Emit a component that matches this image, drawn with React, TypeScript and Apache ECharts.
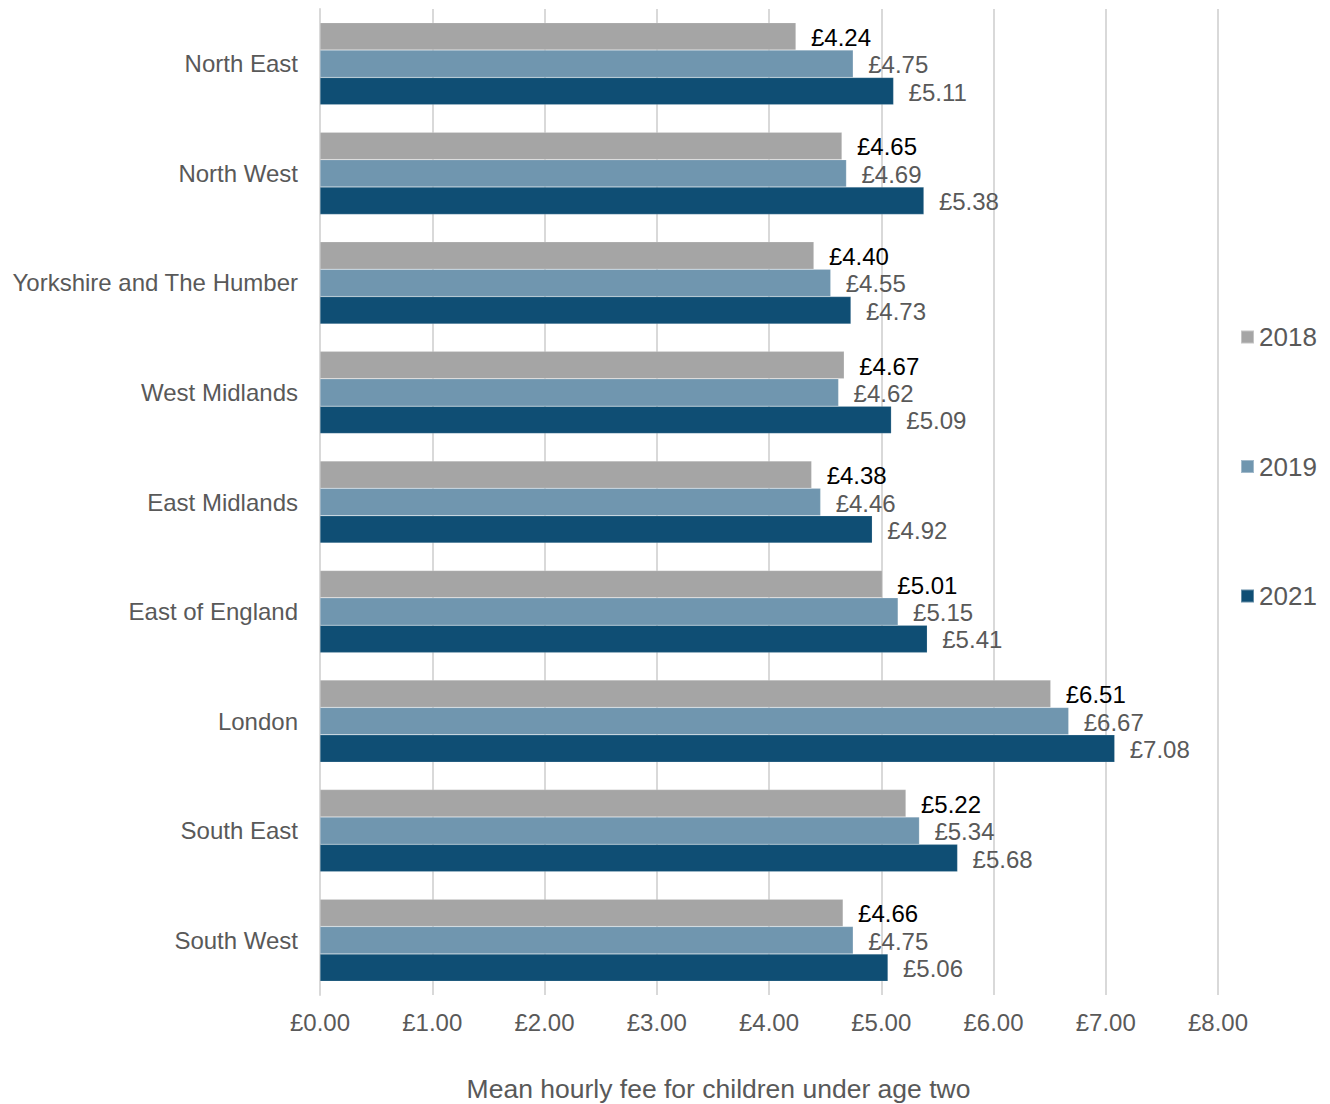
import React, { useEffect, useRef } from "react";
import * as echarts from "echarts";

const regions = [
  "North East",
  "North West",
  "Yorkshire and The Humber",
  "West Midlands",
  "East Midlands",
  "East of England",
  "London",
  "South East",
  "South West",
];
const years = ["2018", "2019", "2021"];
const fees2018 = [4.24, 4.65, 4.4, 4.67, 4.38, 5.01, 6.51, 5.22, 4.66];
const fees2019 = [4.75, 4.69, 4.55, 4.62, 4.46, 5.15, 6.67, 5.34, 4.75];
const fees2021 = [5.11, 5.38, 4.73, 5.09, 4.92, 5.41, 7.08, 5.68, 5.06];
const colors = ["#A5A5A5", "#7096AF", "#0F4E74"];
const labelColors = ["#000000", "#595959", "#595959"];
const FONT = "'Liberation Sans', Arial, sans-serif";

export default function App() {
  const ref = useRef<HTMLDivElement>(null);
  useEffect(() => {
    if (!ref.current) return;
    const chart = echarts.init(ref.current, undefined, { renderer: "svg" });
    const series = [fees2018, fees2019, fees2021].map((d, i) => ({
      name: years[i],
      type: "bar",
      data: d,
      barGap: "0%",
      barCategoryGap: "25%",
      itemStyle: { color: colors[i], borderColor: "rgba(255,255,255,0.35)", borderWidth: 0.5 },
      label: {
        show: true,
        position: "right",
        distance: 15,
        color: labelColors[i],
        fontSize: 24,
        fontFamily: FONT,
        offset: [0, 1],
        formatter: (p: any) => "£" + Number(p.value).toFixed(2),
      },
    }));
    chart.setOption({
      animation: false,
      textStyle: { fontFamily: FONT },
      grid: {
        left: 320,
        right: 112,
        top: 9,
        bottom: 109,
        containLabel: false,
        outerBoundsMode: "none",
      },
      legend: {
        orient: "vertical",
        left: 1240,
        top: 324,
        padding: 0,
        itemWidth: 13,
        itemHeight: 13,
        itemGap: 103.5,
        icon: "rect",
        textStyle: { fontSize: 26, color: "#595959", fontFamily: FONT, padding: [0, 0, 0, 0] },
        data: years,
      },
      xAxis: {
        type: "value",
        min: 0,
        max: 8,
        interval: 1,
        name: "Mean hourly fee for children under age two",
        nameLocation: "middle",
        nameGap: 80,
        nameTextStyle: {
          fontSize: 26.5,
          color: "#595959",
          fontFamily: FONT,
          padding: [0, 101, 0, 0],
        },
        axisLine: { show: false },
        axisTick: { show: false },
        axisLabel: {
          fontSize: 24,
          color: "#595959",
          margin: 15,
          fontFamily: FONT,
          formatter: (v: number) => "£" + v.toFixed(2),
        },
        splitLine: { show: true, lineStyle: { color: "#D9D9D9", width: 2 } },
      },
      yAxis: {
        type: "category",
        data: regions,
        inverse: true,
        axisLine: { show: true, lineStyle: { color: "#D9D9D9", width: 2 } },
        axisTick: { show: false },
        axisLabel: { fontSize: 24, color: "#595959", margin: 22, fontFamily: FONT },
      },
      series,
    });
    return () => chart.dispose();
  }, []);
  return (
    <div
      ref={ref}
      style={{ position: "absolute", left: 0, top: 0, width: 1330, height: 1104 }}
    />
  );
}
